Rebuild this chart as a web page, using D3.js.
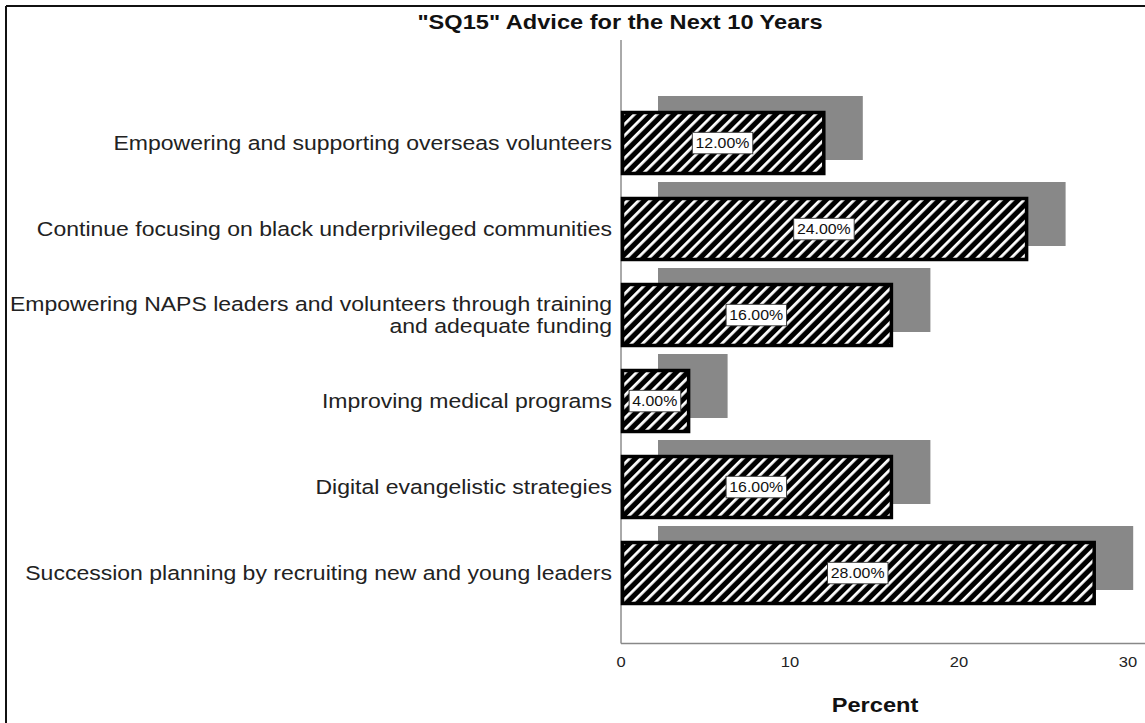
<!DOCTYPE html>
<html>
<head>
<meta charset="utf-8">
<script src="https://cdn.jsdelivr.net/npm/d3@7"></script>
<style>
  html, body { margin: 0; padding: 0; background: #fff; }
  svg { display: block; font-family: "Liberation Sans", Arial, sans-serif; }
</style>
</head>
<body>
<svg id="chart" width="1145" height="723"></svg>
<script>
// Survey responses: advice for the next 10 years
const categories = [
  "Empowering and supporting overseas volunteers",
  "Continue focusing on black underprivileged communities",
  "Empowering NAPS leaders and volunteers through training|and adequate funding",
  "Improving medical programs",
  "Digital evangelistic strategies",
  "Succession planning by recruiting new and young leaders"
];
const percents = [12, 24, 16, 4, 16, 28];
const xTicks = [0, 10, 20, 30];
const titleText = '"SQ15" Advice for the Next 10 Years';
const xAxisTitle = "Percent";

const svg = d3.select("#chart");
const W = 1145, H = 723;
const SX = 1.18; // horizontal widening of text

// text placed at (ax, ay), widened horizontally around its anchor
function wideText(parent, ax, ay, sx = SX) {
  return parent.append("g")
    .attr("transform", `translate(${ax},${ay}) scale(${sx},1)`)
    .append("text").attr("x", 0).attr("y", 0);
}

// Outer frame (top and left edges)
svg.append("line").attr("x1", 6).attr("y1", 6).attr("x2", W).attr("y2", 6)
  .attr("stroke", "#111").attr("stroke-width", 2);
svg.append("line").attr("x1", 6).attr("y1", 6).attr("x2", 6).attr("y2", H)
  .attr("stroke", "#111").attr("stroke-width", 2);

const x = d3.scaleLinear().domain([0, 31]).range([621, 621 + 31 * 16.9]);
const y = d3.scaleBand().domain(d3.range(categories.length))
  .range([100, 616]).paddingInner(0.256).paddingOuter(0.128);

// Diagonal hatch fill
const defs = svg.append("defs");
const pat = defs.append("pattern").attr("id", "hatch")
  .attr("patternUnits", "userSpaceOnUse").attr("width", 8).attr("height", 8)
  .attr("patternTransform", "rotate(45)");
pat.append("rect").attr("width", 8).attr("height", 8).attr("fill", "#000");
pat.append("rect").attr("x", 0).attr("y", 0).attr("width", 2.8).attr("height", 8).attr("fill", "#fff");

// Title
wideText(svg, 620, 29).attr("text-anchor", "middle")
  .attr("font-size", 20).attr("font-weight", "bold").attr("fill", "#111")
  .text(titleText);

// Axes lines
svg.append("line").attr("x1", x(0)).attr("x2", x(0)).attr("y1", 40).attr("y2", 643.5)
  .attr("stroke", "#555").attr("stroke-width", 1);
svg.append("line").attr("x1", x(0)).attr("x2", W).attr("y1", 643.5).attr("y2", 643.5)
  .attr("stroke", "#888").attr("stroke-width", 1.5);

// Drop shadows behind bars
const sdx = 37, sdy = -15;
svg.append("g").selectAll("rect").data(percents).join("rect")
  .attr("x", x(0) + sdx)
  .attr("y", (d, i) => y(i) + sdy)
  .attr("width", d => x(d) - x(0) + 2)
  .attr("height", y.bandwidth())
  .attr("fill", "#888");

// Bars
svg.append("g").selectAll("rect").data(percents).join("rect")
  .attr("x", x(0) + 1.5)
  .attr("y", (d, i) => y(i) + 1.5)
  .attr("width", d => x(d) - x(0) - 1.5)
  .attr("height", y.bandwidth() - 3)
  .attr("fill", "url(#hatch)")
  .attr("stroke", "#000").attr("stroke-width", 3.5);

// Value labels in white boxes
const labels = svg.append("g");
percents.forEach((d, i) => {
  const cx = (x(0) + x(d)) / 2, cy = y(i) + y.bandwidth() / 2;
  const g = labels.append("g").attr("transform", `translate(${cx},${cy}) scale(1.06,1)`);
  const t = g.append("text").attr("text-anchor", "middle").attr("dy", "0.36em")
    .attr("font-size", 15).attr("fill", "#111")
    .text(d.toFixed(2) + "%");
  const bb = t.node().getBBox();
  g.insert("rect", "text").attr("x", bb.x - 3).attr("y", bb.y - 2.5)
    .attr("width", bb.width + 6).attr("height", bb.height + 5)
    .attr("fill", "#fff").attr("stroke", "#333").attr("stroke-width", 0.9);
});

// Category labels
const catG = svg.append("g");
categories.forEach((d, i) => {
  const lines = d.split("|");
  const t = wideText(catG, 612, y(i) + y.bandwidth() / 2)
    .attr("text-anchor", "end").attr("font-size", 19.5).attr("fill", "#222");
  lines.forEach((ln, k) => {
    t.append("tspan").attr("x", 0)
      .attr("dy", k === 0 ? (0.36 - (lines.length - 1) * 0.55) + "em" : "1.1em")
      .text(ln);
  });
});

// X tick labels
const tickG = svg.append("g");
xTicks.forEach(v => {
  wideText(tickG, x(v), 667).attr("text-anchor", "middle")
    .attr("font-size", 14).attr("fill", "#222").text(v);
});

// X axis title
wideText(svg, 875, 712).attr("text-anchor", "middle")
  .attr("font-size", 20).attr("font-weight", "bold").attr("fill", "#111")
  .text(xAxisTitle);
</script>
</body>
</html>
